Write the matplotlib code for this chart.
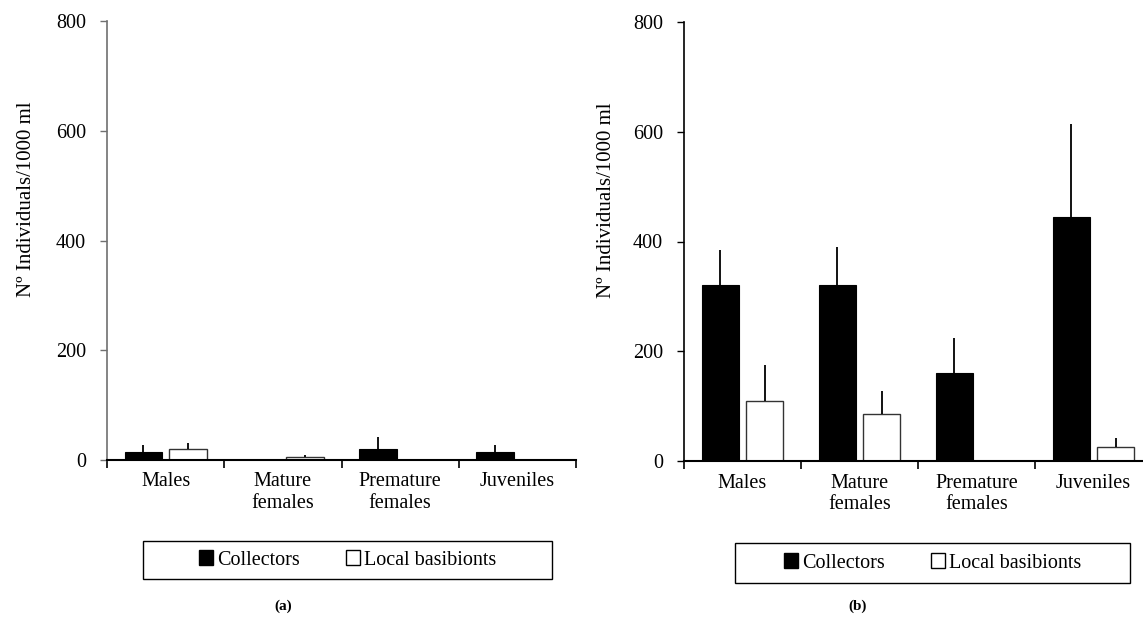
import matplotlib.pyplot as plt
from matplotlib.patches import Rectangle, Patch
import numpy as np

categories = ["Males", "Mature\nfemales", "Premature\nfemales", "Juveniles"]
series_names = ["Collectors", "Local basibionts"]

# panel (a)
a_collectors = [15, 0, 20, 15]
a_collectors_err = [12, 0, 22, 12]
a_local = [20, 5, 0, 0]
a_local_err = [11, 4, 0, 0]

# panel (b)
b_collectors = [320, 320, 160, 445]
b_collectors_err = [65, 70, 65, 170]
b_local = [110, 85, 0, 25]
b_local_err = [65, 42, 0, 17]

y_ticks = [0, 200, 400, 600, 800]
ylabel = "Nº Individuals/1000 ml"

plt.rcParams['font.family'] = ['Liberation Serif', 'DejaVu Serif']

fig = plt.figure(figsize=(11.43, 6.32), dpi=100)


def draw_panel(ax, coll, coll_err, loc, loc_err, spine_col, label_x):
    x = np.arange(len(categories))
    w = 0.32
    off = 0.19
    ax.bar(x - off, coll, width=w, color='black', edgecolor='black', linewidth=0.8, zorder=2)
    ax.bar(x + off, loc, width=w, color='white', edgecolor='#333333', linewidth=1.0, zorder=2)
    for xs, vals, errs in [(x - off, coll, coll_err), (x + off, loc, loc_err)]:
        for xi, v, e in zip(xs, vals, errs):
            if e > 0:
                ax.errorbar(xi, v, yerr=[[0], [e]], fmt='none', ecolor='black',
                            elinewidth=1.3, capsize=0, zorder=3)
    ax.set_xlim(-0.5, 3.5)
    ax.set_ylim(0, 800)
    ax.set_yticks(y_ticks)
    ax.set_xticks(np.arange(-0.5, 4.0, 1.0))
    ax.set_xticklabels([])
    ax.set_xticks(x, minor=True)
    ax.set_xticklabels(categories, minor=True, fontsize=14.5, linespacing=1.15)
    ax.tick_params(axis='x', which='minor', length=0, pad=9)
    ax.tick_params(axis='x', which='major', length=6, width=1.2, direction='out')
    ax.tick_params(axis='y', length=5, width=1.0, direction='out', labelsize=14.5,
                   color=spine_col, pad=10)
    ax.spines['top'].set_visible(False)
    ax.spines['right'].set_visible(False)
    ax.spines['left'].set_color(spine_col)
    ax.spines['left'].set_linewidth(1.2)
    ax.spines['bottom'].set_linewidth(1.5)
    ax.set_ylabel(ylabel, fontsize=15)
    ax.yaxis.set_label_coords(label_x, 0.595)


ax_a = fig.add_axes([107 / 1143, 172 / 632, 469 / 1143, 439 / 632])
draw_panel(ax_a, a_collectors, a_collectors_err, a_local, a_local_err, '#707070', -0.151)

ax_b = fig.add_axes([684 / 1143, 171 / 632, 468 / 1143, 439 / 632])
draw_panel(ax_b, b_collectors, b_collectors_err, b_local, b_local_err, 'black', -0.145)

handles = [Patch(facecolor='black', edgecolor='black', label=series_names[0]),
           Patch(facecolor='white', edgecolor='black', label=series_names[1])]

for (x0, y0, x1, y1) in [(143, 541, 552, 579), (735, 543, 1130, 583)]:
    fig.add_artist(Rectangle((x0 / 1143, 1 - y1 / 632), (x1 - x0) / 1143, (y1 - y0) / 632,
                             transform=fig.transFigure, facecolor='white',
                             edgecolor='black', linewidth=1.0))
    fig.legend(handles=handles, loc='center',
               bbox_to_anchor=((x0 + x1) / 2 / 1143, 1 - (y0 + y1) / 2 / 632),
               ncol=2, frameon=False, fontsize=14.5, handlelength=0.7,
               handleheight=0.7, handletextpad=0.2, columnspacing=2.3)

fig.text(283 / 1143, 1 - 606 / 632, "(a)", ha='center', va='center', fontsize=11, fontweight='bold')
fig.text(858 / 1143, 1 - 606 / 632, "(b)", ha='center', va='center', fontsize=11, fontweight='bold')

fig.savefig("out.png", dpi=100)
